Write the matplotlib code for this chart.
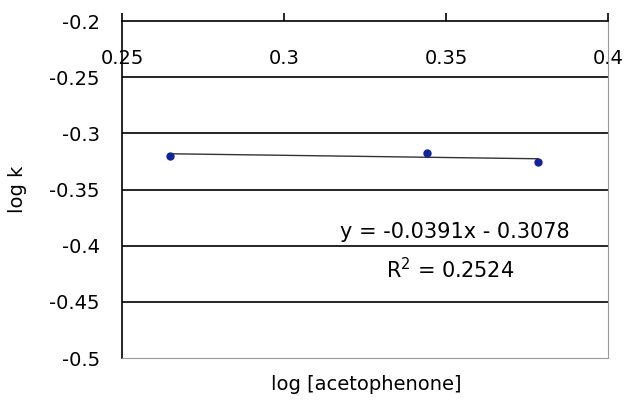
import matplotlib.pyplot as plt
import numpy as np

# data
log_acetophenone = [0.2648, 0.3442, 0.3784]
log_k = [-0.3200, -0.3175, -0.3254]
slope = -0.0391
intercept = -0.3078
r_squared = 0.2524
x_ticks = [0.25, 0.3, 0.35, 0.4]
y_ticks = [-0.5, -0.45, -0.4, -0.35, -0.3, -0.25, -0.2]

plt.rcParams['font.family'] = 'DejaVu Sans'

fig = plt.figure(figsize=(6.27, 4.05), dpi=100)
ax = fig.add_axes([0.1946, 0.116, 0.7751, 0.832])

ax.set_xlim(0.25, 0.4)
ax.set_ylim(-0.5, -0.2)

# horizontal gridlines
for yv in y_ticks[1:-1]:
  ax.axhline(yv, color='black', lw=1.2, zorder=1)

# trend line over the data range
xs = np.array([min(log_acetophenone), max(log_acetophenone)])
ax.plot(xs, slope * xs + intercept, color='#333333', lw=1.0, zorder=2)
ax.plot(log_acetophenone, log_k, 'o', color='#13249a', markersize=5, zorder=3)

ax.text(0.3527, -0.3878, 'y = -0.0391x - 0.3078', fontsize=15, ha='center', va='center')
ax.text(0.3513, -0.4216, 'R$^2$ = 0.2524', fontsize=15, ha='center', va='center')

ax.spines['top'].set_color('black')
ax.spines['top'].set_linewidth(1.2)
ax.spines['left'].set_color('black')
ax.spines['left'].set_linewidth(1.2)
ax.spines['right'].set_color('#999999')
ax.spines['bottom'].set_color('#999999')

ax.set_xticks(x_ticks)
ax.set_xticklabels(['0.25', '0.3', '0.35', '0.4'])
ax.set_yticks(y_ticks)
ax.set_yticklabels(['-0.5', '-0.45', '-0.4', '-0.35', '-0.3', '-0.25', '-0.2'])

ax.tick_params(axis='x', top=True, bottom=False, labeltop=True, labelbottom=False,
               direction='out', length=6, width=1.2, pad=-40, labelsize=14)
ax.tick_params(axis='y', direction='in', length=0, labelsize=14, pad=16)

ax.set_ylabel('log k', fontsize=14)
ax.yaxis.set_label_coords(-0.195, 0.5)
fig.text(0.5837, 0.05, 'log [acetophenone]', fontsize=14, ha='center', va='center')

fig.savefig('out.png', dpi=100)
